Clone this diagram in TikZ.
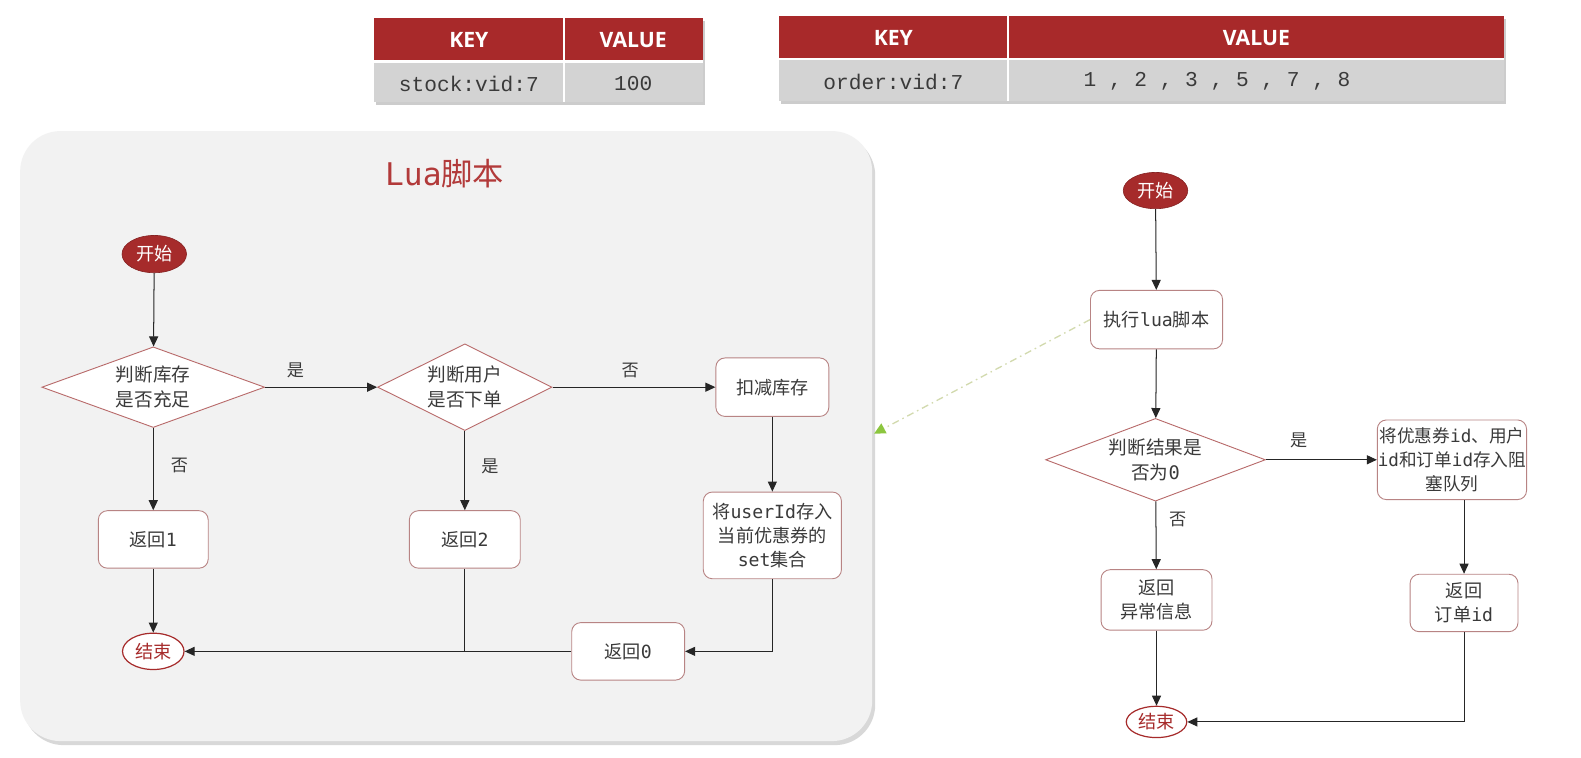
\documentclass[tikz,border=0pt]{standalone}
\usepackage{fontspec}
\setmainfont{Noto Sans CJK SC}
\newfontfamily\monof{DejaVu Sans Mono}
\newfontfamily\tmonof{Liberation Mono}
\newfontfamily\hdrf{Open Sans}
\usetikzlibrary{shapes.geometric,arrows.meta,shadows}
\definecolor{hdrred}{HTML}{A8292A}
\definecolor{rowgray}{HTML}{D3D3D3}
\definecolor{panel}{HTML}{F2F2F2}
\definecolor{startred}{HTML}{A62B2B}
\definecolor{boxline}{HTML}{B88484}
\definecolor{diaml}{HTML}{B86A6A}
\definecolor{txt}{HTML}{3A3A3A}
\definecolor{titlered}{HTML}{B23A3A}
\definecolor{dashg}{HTML}{D2DAAE}
\definecolor{tipg}{HTML}{8CC63F}
\newcommand{\mtxt}[1]{{\monof #1}}
\tikzset{
  hdr/.style={text=white, font=\hdrf\bfseries\fontsize{21}{24}\selectfont, inner sep=0pt},
  cell/.style={text=txt, font=\tmonof\fontsize{21}{24}\selectfont, inner sep=0pt},
  boxn/.style={draw=boxline, line width=0.9pt, fill=white, rounded corners=9pt, inner sep=0pt,
     align=center, text=txt, font=\fontsize{18}{23.5}\selectfont},
  diam/.style={diamond, draw=diaml, line width=0.9pt, fill=white, inner sep=0pt, align=center,
     text=txt, font=\fontsize{18.5}{25}\selectfont},
  startn/.style={ellipse, fill=startred, draw=startred!80!black, line width=0.6pt, inner sep=0pt,
     text=white, font=\fontsize{18}{20}\selectfont},
  endn/.style={ellipse, fill=white, draw=startred, line width=1.2pt, inner sep=0pt,
     text=startred, font=\fontsize{18}{20}\selectfont},
  arr/.style={draw=black!85, line width=1pt, -{Triangle[length=10pt,width=9pt]}},
  plain/.style={draw=black!85, line width=1pt},
  lbl/.style={text=txt, font=\fontsize{17}{20}\selectfont, inner sep=0pt},
}
\begin{document}
\begin{tikzpicture}[x=1pt,y=-1pt]
\useasboundingbox (0,0) rectangle (1568,751);
\fill[white] (0,0) rectangle (1568,751);

% ---------- table 1 ----------
\path[fill=white, drop shadow={shadow xshift=2pt, shadow yshift=-3pt, opacity=0.4}] (371,18) rectangle (697,101);
\fill[hdrred] (371,18) rectangle (697,60);
\fill[rowgray] (371,62) rectangle (697,101);
\draw[white, line width=2pt] (559,18) -- (559,101);
\node[hdr] (t1k) at (465,40) {KEY};
\node[hdr] (t1v) at (628,40) {VALUE};
\node[cell] (t1a) at (465,83) {stock:vid:7};
\node[cell] (t1b) at (628,83) {100};

% ---------- table 2 ----------
\path[fill=white, drop shadow={shadow xshift=2pt, shadow yshift=-3pt, opacity=0.4}] (773,16) rectangle (1492,100);
\fill[hdrred] (773,16) rectangle (1492,58);
\fill[rowgray] (773,60) rectangle (1492,100);
\draw[white, line width=2pt] (1000,16) -- (1000,100);
\node[hdr] (t2k) at (886,38) {KEY};
\node[hdr] (t2v) at (1246,38) {VALUE};
\node[cell] (t2a) at (886,81) {order:vid:7};
\node[cell] (t2b) at (1207,81) {1 , 2 , 3 , 5 , 7 , 8};

% ---------- Lua panel ----------
\path[fill=panel, rounded corners=40pt, drop shadow={shadow xshift=3pt, shadow yshift=-4pt, opacity=0.3}] (20,130) rectangle (865,735);
\node[text=titlered, font=\fontsize{31}{34}\selectfont, inner sep=0pt] (title) at (441,172) {\mtxt{Lua}脚本};

% left flow
\node[startn, minimum width=64pt, minimum height=37pt] (s1) at (153,252) {开始};
\node[diam, shape aspect=2.76, minimum width=221pt, minimum height=80pt] (d1) at (152,384) {判断库存\\是否充足};
\node[diam, shape aspect=2.0, minimum width=173pt, minimum height=86pt] (d2) at (461,384) {判断用户\\是否下单};
\node[boxn, minimum width=112pt, minimum height=58pt] (b1) at (766,384) {扣减库存};
\node[boxn, minimum width=109pt, minimum height=57pt] (r1) at (152,535) {返回\mtxt{1}};
\node[boxn, minimum width=110pt, minimum height=57pt] (r2) at (461,535) {返回\mtxt{2}};
\node[boxn, minimum width=137pt, minimum height=86pt] (b2) at (766,531) {将\mtxt{userId}存入\\当前优惠券的\\\mtxt{set}集合};
\node[boxn, minimum width=112pt, minimum height=57pt] (r0) at (623,646) {返回\mtxt{0}};
\node[endn, minimum width=61pt, minimum height=36pt] (e1) at (152,646) {结束};

\node[lbl] (l1) at (293,367) {是};
\node[lbl] (l2) at (625,367) {否};
\node[lbl] (l3) at (178,462) {否};
\node[lbl] (l4) at (486,463) {是};

\draw[arr] (s1) -- (d1);
\draw[arr] (d1.east) -- (d2.west);
\draw[arr] (d2.east) -- (b1.west);
\draw[arr] (d1) -- (r1);
\draw[arr] (d2) -- (r2);
\draw[arr] (b1) -- (b2);
\draw[arr] (b2.south) |- (r0.east);
\draw[arr] (r0.west) -- (e1.east);
\draw[plain] (r2.south) -- (r2.south |- r0.west);
\draw[arr] (r1) -- (e1);

% ---------- right flow ----------
\node[startn, minimum width=64pt, minimum height=36pt] (s2) at (1146,189) {开始};
\node[boxn, minimum width=131pt, minimum height=58pt] (x1) at (1147,317) {执行\mtxt{lua}脚本};
\node[diam, shape aspect=2.66, minimum width=218pt, minimum height=82pt] (d3) at (1146,456) {判断结果是\\否为\mtxt{0}};
\node[boxn, minimum width=148pt, minimum height=79pt, font=\fontsize{17.5}{23.5}\selectfont] (q1) at (1440,456) {将优惠券\mtxt{id}、用户\\\mtxt{id}和订单\mtxt{id}存入阻\\塞队列};
\node[boxn, minimum width=107pt, minimum height=57pt] (q2) at (1452,598) {返回\\订单\mtxt{id}};
\node[boxn, minimum width=110pt, minimum height=60pt] (a1) at (1147,595) {返回\\异常信息};
\node[endn, minimum width=60pt, minimum height=31pt] (e2) at (1147,716) {结束};

\node[lbl] (l5) at (1288,437) {是};
\node[lbl] (l6) at (1168,515) {否};

\draw[arr] (s2) -- (x1);
\draw[arr] (x1) -- (d3);
\draw[arr] (d3.east) -- (q1.west);
\draw[arr] (q1.south -| q2.north) -- (q2.north);
\draw[arr] (d3) -- (a1);
\draw[arr] (a1) -- (e2);
\draw[arr] (q2.south) |- (e2.east);

\coordinate (gt) at (867,430);
\draw[dashg, line width=1.3pt, dash pattern=on 7pt off 4pt on 1.5pt off 4pt,
  -{Triangle[length=11pt,width=11pt,color=tipg,fill=tipg]}] (x1.west) -- (gt);
\end{tikzpicture}
\end{document}
